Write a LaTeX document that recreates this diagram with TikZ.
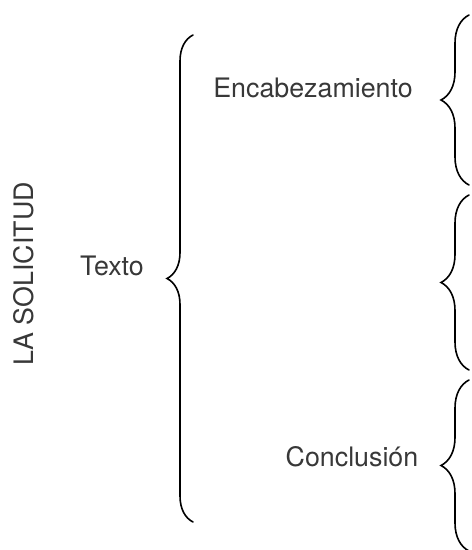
\documentclass[tikz,border=0pt]{standalone}
\usepackage{fontspec}
\setmainfont{TeX Gyre Heros}
\usepackage{tikz}
\usetikzlibrary{positioning,decorations.pathreplacing}
\definecolor{textgray}{HTML}{383838}
\begin{document}
\begin{tikzpicture}[x=0.5pt,y=-0.5pt]
          \tikzset{Label/.style = {text=textgray, font=\fontsize{13.4}{16}\selectfont, inner sep=0pt}}
          \tikzset{Brace/.style = {draw, line width=0.8pt, line cap=round, decorate, decoration={brace, amplitude=#1}}}
          \useasboundingbox (0,0) rectangle (471,550);

          \node[Label, rotate=90] (Solicitud) at (24,274) {LA SOLICITUD};
          \node[Label] (Texto) at (112,266) {Texto};
          \node[Label] (Encab) at (313,88) {Encabezamiento};
          \node[Label] (Concl) at (352,457) {Conclusión};

          % brace ends
          \coordinate (TxtTop) at (193,35);
          \coordinate (TxtBot) at (193,522);
          \coordinate (EncTop) at (469,15);
          \coordinate (EncBot) at (469,185);
          \coordinate (MidTop) at (469,195);
          \coordinate (MidBot) at (469,370);
          \coordinate (ConTop) at (469,380);
          \coordinate (ConBot) at (469,551);

          \draw[Brace=13pt] (TxtBot) -- (TxtTop);
          \draw[Brace=14pt] (EncBot) -- (EncTop);
          \draw[Brace=14pt] (MidBot) -- (MidTop);
          \draw[Brace=14pt] (ConBot) -- (ConTop);
        \end{tikzpicture}
\end{document}
